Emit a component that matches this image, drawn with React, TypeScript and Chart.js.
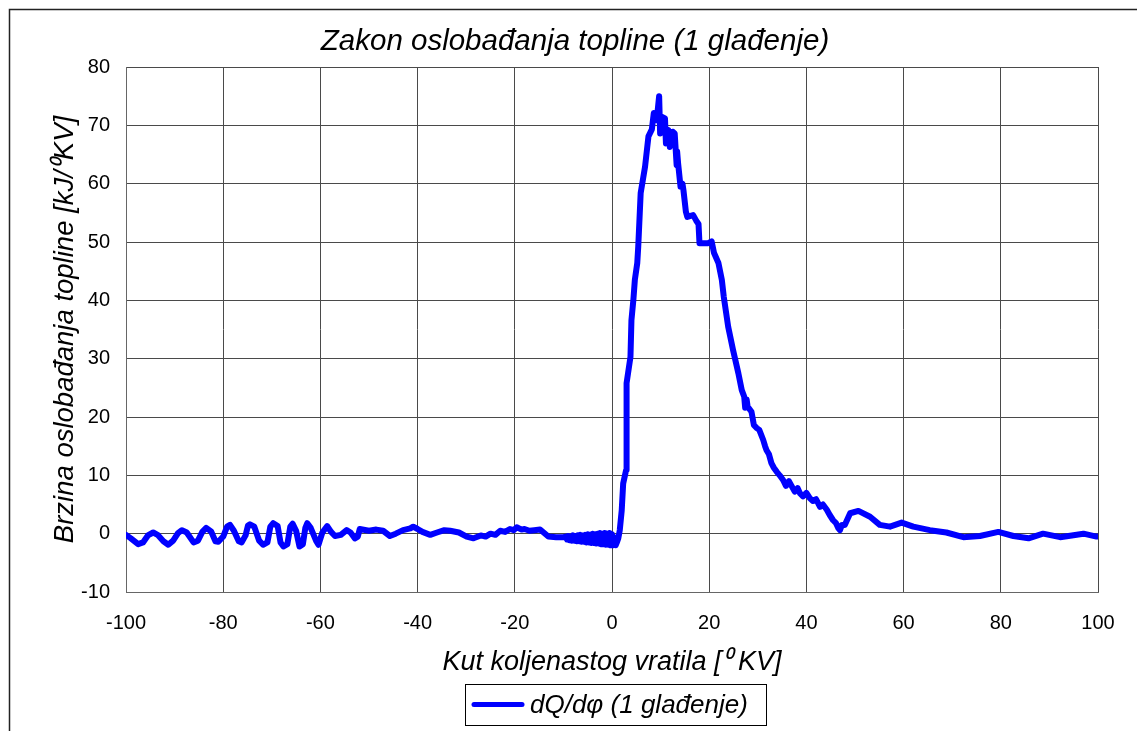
import React, { useEffect, useRef } from "react";
import { Chart, registerables } from "chart.js";

Chart.register(...registerables);

const FONT = "'Liberation Sans', Arial, sans-serif";

const chartTitle = "Zakon oslobađanja topline (1 glađenje)";
const xAxisTitle = "Kut koljenastog vratila [⁰ KV]";
const yAxisTitle = "Brzina oslobađanja topline [kJ/⁰KV]";
const seriesLabel = "dQ/dφ (1 glađenje)";

const xMin = -100;
const xMax = 100;
const xStep = 20;
const yMin = -10;
const yMax = 80;
const yStep = 10;

// crank angle [deg]
const angle: number[] = [
  -100, -99, -97.5, -96.5, -95.5, -94.4, -93.5, -92.3, -91.3, -90.3,
  -89.3, -88.5, -87.5, -86.1, -85.2, -84.3, -83.5, -82.5, -81.6, -81,
  -80, -79.2, -78.6, -77.8, -76.8, -76.2, -75.4, -74.9, -74.5, -73.6,
  -72.6, -71.8, -70.9, -70.3, -69.7, -68.8, -68.2, -67.6, -66.8, -66.2,
  -65.7, -65, -64.3, -63.6, -63.1, -62.7, -62, -60.9, -60.4, -59.6,
  -58.6, -57.8, -57, -55.8, -54.6, -53.8, -52.9, -52.3, -51.9, -50,
  -48.5, -47.1, -45.7, -44.5, -43, -41.5, -40.9, -40, -39, -37.4,
  -36, -34.5, -33.3, -31.5, -29.9, -28.5, -27, -26, -25, -24,
  -23, -22, -21, -20.2, -19.6, -18.6, -18, -17, -16, -14.8,
  -13.1, -11.5, -10,
  -9.5, -9.25, -9, -8.75, -8.5, -8.25, -8, -7.75, -7.5, -7.25,
  -7, -6.75, -6.5, -6.25, -6, -5.75, -5.5, -5.25, -5, -4.75,
  -4.5, -4.25, -4, -3.75, -3.5, -3.25, -3, -2.75, -2.5, -2.25,
  -2, -1.75, -1.5, -1.25, -1, -0.75, -0.5, -0.25, 0, 0.25,
  0.5, 0.75, 1.0, 1.3, 1.6, 2.0, 2.3, 2.9, 3.0,
  3.8, 4.0, 4.4, 4.7, 5.2, 5.4, 5.9, 6.8, 7.5, 8.2,
  8.6, 9.2, 9.7, 9.9, 10.2, 10.9, 11.1, 11.6, 11.9, 12.5,
  12.9, 13.3, 13.4, 13.6, 14.1, 14.5, 14.7, 15.2, 15.5, 16.7,
  17.3, 17.8, 18.0, 19.8, 20.5, 21.0, 21.9, 22.6, 23.0, 23.9,
  24.9, 26.0, 26.7, 27.2, 27.4, 27.7, 27.9, 28.7, 29.2, 29.8,
  30.3, 31.1, 31.5, 31.8, 32.3, 32.8, 33.3, 33.9, 34.5, 35.2,
  35.8, 36.4, 37, 37.6, 38.2, 38.7, 39.3, 40, 40.7, 41.3,
  42, 42.8, 43.4, 44.2, 44.8, 45.5, 46.1, 46.6, 46.9, 47.3,
  47.9, 49, 50.7, 53.1, 55.1, 57.2, 59.6, 62, 65.4, 68.8,
  72.3, 75.7, 79.5, 82.6, 85.7, 88.7, 92.2, 97, 99.7, 100,
];

// heat release rate dQ/dphi [kJ/deg]
const dq: number[] = [
  -0.2, -0.8, -1.8, -1.5, -0.3, 0.2, -0.2, -1.3, -1.9, -1.2,
  0.1, 0.6, 0.2, -1.5, -1.2, 0.3, 1.0, 0.4, -1.3, -1.4,
  -0.5, 1.2, 1.5, 0.5, -1.3, -1.5, -0.3, 1.4, 1.6, 1.2,
  -1.2, -1.9, -1.5, 1.2, 1.8, 1.3, -1.5, -2.2, -1.8, 1.2,
  1.7, 0.5, -2.2, -1.8, 1.0, 1.8, 1.0, -1.2, -1.9, 0.2,
  1.3, 0.3, -0.4, -0.2, 0.6, 0.2, -0.8, -0.5, 0.8, 0.5,
  0.7, 0.5, -0.4, 0.0, 0.6, 0.9, 1.2, 0.8, 0.3, -0.2,
  0.2, 0.6, 0.5, 0.2, -0.5, -0.8, -0.3, -0.5, 0.0, -0.2,
  0.5, 0.3, 0.8, 0.6, 1.1, 0.7, 0.8, 0.5, 0.6, 0.7,
  -0.5, -0.6, -0.6,
  -0.5, -1.0, -0.4, -1.1, -0.5, -1.2, -0.3, -1.2, -0.4, -1.3,
  -0.3, -1.3, -0.2, -1.4, -0.3, -1.4, -0.2, -1.5, -0.1, -1.5,
  -0.2, -1.6, 0.0, -1.6, -0.1, -1.7, 0.0, -1.7, 0.1, -1.8,
  0.0, -1.8, 0.1, -1.9, 0.0, -1.9, 0.1, -2.0, -0.1, -2.0,
  -0.6, -2.0, -1.5, -0.8, 0.6, 4.0, 8.6, 10.9, 25.8,
  30.3, 36.6, 40.1, 43.5, 46.4, 49.2, 58.4, 62.9, 68.1, 69.3,
  72.1, 70.9, 75.0, 68.6, 71.5, 71.2, 66.9, 69.2, 66.3, 68.9,
  68.6, 63.2, 65.5, 63.5, 59.5, 60.0, 58.9, 55.2, 54.3, 54.6,
  53.7, 53.1, 49.8, 49.8, 50.1, 48.1, 46.4, 43.5, 40.6, 35.5,
  31.5, 27.5, 24.6, 23.5, 21.6, 23.0, 21.8, 20.9, 18.6, 18.1,
  17.8, 16.1, 15.0, 14.3, 13.6, 12.1, 11.3, 10.6, 10.0, 9.2,
  8.2, 9.0, 8.1, 7.2, 7.8, 6.9, 6.4, 7.0, 6.1, 5.6,
  5.9, 4.6, 5.0, 4.1, 3.2, 2.3, 1.8, 0.9, 0.6, 1.5,
  1.5, 3.5, 3.9, 2.9, 1.5, 1.2, 1.9, 1.2, 0.6, 0.2,
  -0.6, -0.4, 0.3, -0.4, -0.8, 0.0, -0.6, 0.0, -0.5, -0.5,
];

const frameAndLegend = {
  id: "frameAndLegend",
  afterDraw(chart: any) {
    const ctx = chart.ctx as CanvasRenderingContext2D;
    ctx.save();
    // outer chart frame
    ctx.strokeStyle = "#222";
    ctx.lineWidth = 1.5;
    ctx.strokeRect(9.5, 9.5, 1400, 1000);
    // legend box
    ctx.strokeStyle = "#000";
    ctx.lineWidth = 1;
    ctx.strokeRect(465.5, 684.5, 301, 41);
    ctx.strokeStyle = "#0000FF";
    ctx.lineWidth = 5;
    ctx.lineCap = "round";
    ctx.beginPath();
    ctx.moveTo(474, 704.5);
    ctx.lineTo(522, 704.5);
    ctx.stroke();
    ctx.fillStyle = "#000";
    ctx.font = `italic 26px ${FONT}`;
    ctx.textBaseline = "middle";
    ctx.textAlign = "left";
    ctx.fillText(seriesLabel, 530, 706);
    ctx.restore();
  },
};

export default function App() {
  const ref = useRef<HTMLCanvasElement | null>(null);

  useEffect(() => {
    if (!ref.current) return;
    const points = angle.map((a, i) => ({ x: a, y: dq[i] }));
    const chart = new Chart(ref.current, {
      type: "line",
      data: {
        datasets: [
          {
            label: seriesLabel,
            data: points,
            borderColor: "#0000FF",
            backgroundColor: "#0000FF",
            borderWidth: 6,
            pointRadius: 0,
            tension: 0,
            borderJoinStyle: "round",
            borderCapStyle: "round",
            yAxisID: "y",
          },
        ],
      },
      options: {
        animation: false,
        responsive: false,
        devicePixelRatio: 1,
        layout: { padding: { left: 13, top: 0, right: 0, bottom: 52.5 } },
        plugins: {
          legend: { display: false },
          tooltip: { enabled: false },
          title: {
            display: true,
            text: chartTitle,
            color: "#000",
            font: { family: FONT, size: 29.5, style: "italic", weight: "normal" },
            padding: { top: 23.6, bottom: 8.0 },
          },
        },
        scales: {
          x: {
            type: "linear",
            min: xMin,
            max: xMax,
            afterFit: (s: any) => {
              s.height = 86.5;
            },
            ticks: {
              stepSize: xStep,
              color: "#000",
              padding: 19,
              maxRotation: 0,
              font: { family: FONT, size: 20 },
            },
            grid: { color: "#4a4a4a", lineWidth: 1, drawTicks: false },
            border: { color: "#666", width: 1 },
            title: {
              display: true,
              text: xAxisTitle,
              color: "#000",
              font: { family: FONT, size: 27, style: "italic", weight: "normal" },
              padding: { top: 0, bottom: 0 },
            },
          },
          y: {
            type: "linear",
            position: "left",
            min: yMin,
            max: yMax,
            afterFit: (s: any) => {
              s.width = 113;
            },
            ticks: {
              stepSize: yStep,
              color: "#000",
              padding: 16,
              font: { family: FONT, size: 20 },
            },
            grid: { color: "#4a4a4a", lineWidth: 1, drawTicks: false },
            border: { color: "#666", width: 1 },
            title: {
              display: true,
              text: yAxisTitle,
              color: "#000",
              font: { family: FONT, size: 27.5, style: "italic", weight: "normal" },
              padding: { top: 35.5, bottom: 0 },
            },
          },
          spacer: {
            type: "linear",
            position: "right",
            display: true,
            afterFit: (s: any) => {
              s.width = 39;
            },
            ticks: { display: false },
            grid: { display: false, drawTicks: false },
            border: { display: false },
            title: { display: false },
          },
        },
      },
      plugins: [frameAndLegend],
    });
    return () => chart.destroy();
  }, []);

  return (
    <div style={{ position: "fixed", left: 0, top: 0, width: 1137, height: 731, background: "#fff" }}>
      <canvas ref={ref} width={1137} height={731} style={{ display: "block" }} />
    </div>
  );
}
